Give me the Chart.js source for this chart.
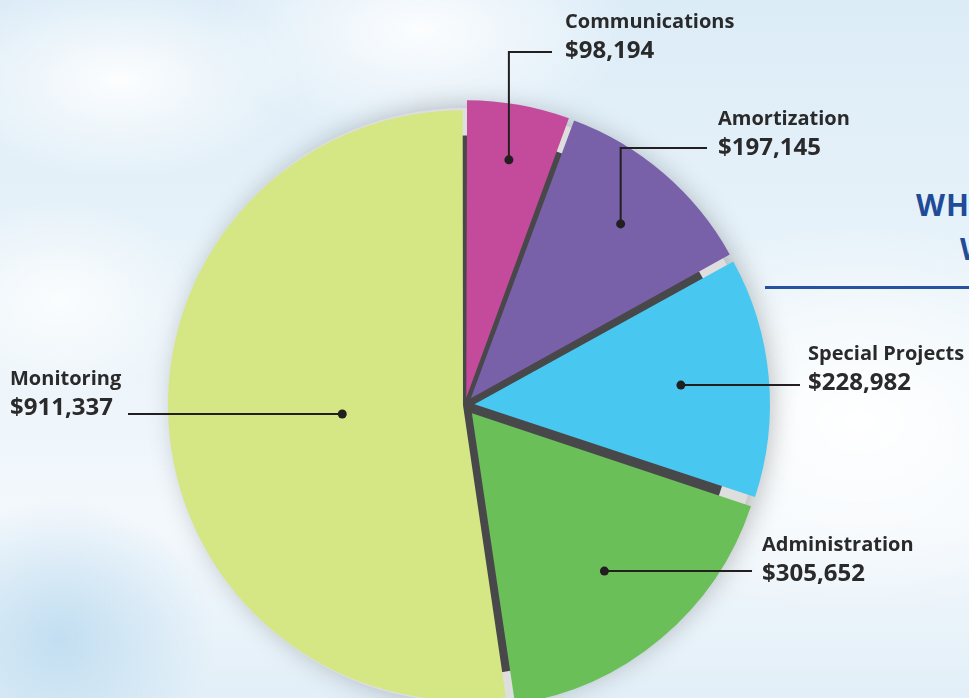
<!DOCTYPE html>
<html>
<head>
<meta charset="utf-8">
<script src="https://cdn.jsdelivr.net/npm/chart.js"></script>
<style>
  html, body { margin:0; padding:0; width:969px; height:698px; overflow:hidden; }
  body {
    background:
      radial-gradient(ellipse 260px 140px at 120px 80px, rgba(255,255,255,0.9), rgba(255,255,255,0) 70%),
      radial-gradient(ellipse 300px 160px at 420px 30px, rgba(255,255,255,0.9), rgba(255,255,255,0) 70%),
      radial-gradient(ellipse 380px 260px at 860px 420px, rgba(255,255,255,1), rgba(255,255,255,0) 75%),
      radial-gradient(ellipse 200px 140px at 60px 300px, rgba(255,255,255,0.8), rgba(255,255,255,0) 70%),
      radial-gradient(ellipse 220px 200px at 60px 640px, rgba(190,220,240,0.9), rgba(190,220,240,0) 70%),
      linear-gradient(180deg, #dcecf7 0%, #eaf4fa 45%, #f3f8fc 75%, #e2eff8 100%);
    font-family: "Open Sans", sans-serif;
  }
  #wrap { position:absolute; left:0; top:0; width:969px; height:720px; }
  .title { position:absolute; color:#1f4b98; font-weight:bold; font-size:30px; white-space:nowrap; letter-spacing:1px; }
  .rule { position:absolute; left:765px; top:286px; width:220px; height:3px; background:#2652a0; }
</style>
</head>
<body>
<div class="title" style="left:916px; top:184px;">WH</div>
<div class="title" style="left:960px; top:228px;">W</div>
<div class="rule"></div>
<div id="wrap"><canvas id="pieChart"></canvas></div>
<script>
const categories = ['Communications', 'Amortization', 'Special Projects', 'Administration', 'Monitoring'];
const amounts = [98194, 197145, 228982, 305652, 911337];
const amountLabels = ['$98,194', '$197,145', '$228,982', '$305,652', '$911,337'];

const colors = ['#c44a9b', '#7861a9', '#48c7f0', '#6bbf59', '#d5e784'];
const offsets = [29, 36, 38, 43, 8];

// where the callout texts sit (dot goes at dotFrac of the radius, along the slice middle)
const callouts = [
  { dotFrac: 0.85, tx: 565, ty: 22, lineY: 52, lineEnd: 552 },
  { dotFrac: 0.815, tx: 718, ty: 119, lineY: 148, lineEnd: 707 },
  { dotFrac: 0.74, tx: 808, ty: 354, lineY: null, lineEnd: 800 },
  { dotFrac: 0.74, tx: 762, ty: 545, lineY: null, lineEnd: 752 },
  { dotFrac: 0.42, tx: 10, ty: 379, lineY: null, lineEnd: 128 }
];

const backdrop = {
  id: 'backdrop',
  beforeDatasetsDraw(chart) {
    const arc = chart.getDatasetMeta(0).data[0];
    const ctx = chart.ctx;
    ctx.save();
    ctx.shadowColor = 'rgba(0,0,0,0.28)';
    ctx.shadowBlur = 28;
    ctx.shadowOffsetX = 8;
    ctx.fillStyle = '#dedede';
    ctx.beginPath();
    ctx.arc(arc.x, arc.y, arc.outerRadius + 4, 0, Math.PI * 2);
    ctx.fill();
    ctx.restore();
    ctx.save();
    ctx.fillStyle = '#48484a';
    ctx.beginPath();
    ctx.arc(arc.x, arc.y, arc.outerRadius * 0.92, 0, Math.PI * 2);
    ctx.fill();
    ctx.restore();
  }
};

const callout = {
  id: 'callout',
  afterDatasetsDraw(chart) {
    const ctx = chart.ctx;
    const arcs = chart.getDatasetMeta(0).data;
    ctx.save();
    arcs.forEach((arc, i) => {
      const c = callouts[i];
      const mid = (arc.startAngle + arc.endAngle) / 2;
      const dx = arc.x + Math.cos(mid) * arc.outerRadius * c.dotFrac;
      const dy = arc.y + Math.sin(mid) * arc.outerRadius * c.dotFrac;
      ctx.strokeStyle = '#231f20';
      ctx.fillStyle = '#231f20';
      ctx.lineWidth = 2;
      ctx.beginPath();
      ctx.moveTo(dx, dy);
      if (c.lineY !== null) {
        ctx.lineTo(dx, c.lineY);
        ctx.lineTo(c.lineEnd, c.lineY);
      } else {
        ctx.lineTo(c.lineEnd, dy);
      }
      ctx.stroke();
      ctx.beginPath();
      ctx.arc(dx, dy, 4.5, 0, Math.PI * 2);
      ctx.fill();

      ctx.textAlign = 'left';
      ctx.textBaseline = 'middle';
      ctx.fillStyle = '#2b2a2b';
      ctx.font = 'bold 20px "Open Sans"';
      ctx.fillText(categories[i], c.tx, c.ty);
      ctx.font = 'bold 24px "Open Sans"';
      ctx.fillText(amountLabels[i], c.tx, c.ty + 29);
    });
    ctx.restore();
  }
};

const pieCtx = document.getElementById('pieChart');
new Chart(pieCtx, {
  type: 'pie',
  data: {
    labels: categories,
    datasets: [{
      data: amounts,
      backgroundColor: colors,
      borderWidth: 0,
      offset: offsets
    }]
  },
  options: {
    responsive: true,
    maintainAspectRatio: false,
    animation: false,
    layout: { padding: { left: 150.5, top: 90.5, right: 189.5, bottom: 0.5 } },
    plugins: { legend: { display: false }, tooltip: { enabled: false } }
  },
  plugins: [backdrop, callout]
});
</script>
</body>
</html>
